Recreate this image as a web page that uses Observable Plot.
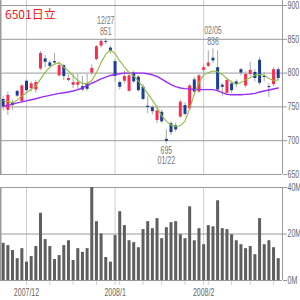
<!DOCTYPE html>
<html><head><meta charset="utf-8">
<script src="https://cdn.jsdelivr.net/npm/d3@7"></script>
<script src="https://cdn.jsdelivr.net/npm/@observablehq/plot@0.6"></script>
<style>
body{margin:0;background:#fff}
#chart{position:relative;width:300px;height:300px;overflow:hidden;background:#fff}
#chart svg{position:absolute;left:0}
#title{position:absolute;left:5px;top:8px;color:#f01818;font:12px/1 "Noto Sans CJK JP","Noto Sans",sans-serif;z-index:2}
</style>
</head><body>
<div id="chart"><div id="title">6501日立</div></div>
<script>
// ---- data (Nov 26 2007 .. Feb 26 2008, daily) ----
const openP  = [761,745,756,773,758,788,777,775,806,821,815,817,796,811,789,782,782,780,784,800,820,840,847,837,817,786,788,773,800,794,779,751,749,730,742,702,725,722,735,752,747,790,772,804,810,822,808,782,770,784,787,805,781,798,801,819,795,780,783,805];
const highP  = [765,772,760,775,783,790,787,789,832,826,818,829,815,813,798,798,798,795,798,812,841,849,851,840,820,788,803,800,803,796,783,765,752,752,745,716,728,726,760,756,783,794,798,812,833,836,833,785,792,788,790,807,802,816,805,823,801,784,808,808];
const lowP   = [744,737,745,764,757,772,772,770,804,808,808,811,794,789,787,777,775,773,773,796,818,837,842,828,787,775,784,772,785,772,759,740,738,725,725,695,708,713,733,736,745,770,770,798,808,814,772,765,767,770,778,796,778,795,787,782,787,764,780,789];
const closeP = [750,767,752,766,781,774,784,786,829,816,810,815,811,795,792,786,786,775,776,807,839,847,846,832,795,779,795,796,787,774,761,749,743,744,728,699,712,716,757,739,781,772,796,808,815,818,775,779,789,774,783,800,798,804,792,785,794,779,805,792];
const ma5    = [759,758,756,760,766,771,776,781,791,801,809,813,815.5,809,803,796,789,784.5,784.5,789,800.7,815.5,828,834,829,818,809,800.7,796,788,779.6,769.7,760,749,736.7,729,723,721,722,729,748,768.7,786,797,800.7,803,802,798,792,787,783.5,786,790,793,797,798,797,792,789,790];
const ma25   = [751,752,754,756,757.5,759,760.5,762,764,765.5,767,768.5,770,771,772,773.5,775.5,778,781.5,785,788,791.5,794,796.5,798,799,800,800,800,800,800,799,797.5,795,791,787,783,780,778,777,776.5,776,775.5,775.5,775.5,775.5,774,771,768.5,768,768,768,768.5,769,770,772,773.5,775,776.5,778];
const volume = [16,15,12.9,9.4,13.7,7.9,10.3,14.6,28.9,17.6,14.6,9,10.7,15,17.1,8.6,13.7,12.1,13.7,40,25.3,20,9.9,7.9,19.3,29.6,23.6,17.1,16.3,14.1,21.9,25.3,22.3,26.6,18,22.7,24.9,25.3,19.7,18,31.7,17.1,22.3,15.4,23.6,23.1,34.3,22.3,21.9,19.7,17.1,15.4,13.7,14.6,11.1,26.6,15.4,17.1,14.1,9.4];
const monthIdx    = [5,24,43];
const monthLabels = ["2007/12","2008/1","2008/2"];
const weekIdx     = [10,15,20,25,30,34,39,44,49,53,58];
const priceTicks  = [650,700,750,800,850,900];
const volTicks    = [0,20,40];
const notes = [
  {i:22, text:"12/27\n851", kind:"high"},
  {i:45, text:"02/05\n836", kind:"high"},
  {i:35, text:"695\n01/22", kind:"low"}
];

const idx = d3.range(openP.length);
const xDom = [-0.58, 59.92];
const UP = "#ff2a4c", DOWN = "#1b3d97", WICK = "#a8a8a8";
const GRID = "#9a9a9a", VGRID = "#cfcfcf";
const FONT = '"Liberation Sans",Arial,sans-serif';

const chart = document.getElementById("chart");

// squeeze small labels horizontally (about their anchor) to mimic the reference's narrow font
function condense(svg, factor) {
  svg.querySelectorAll("text").forEach(t => {
    const tr = t.getAttribute("transform") || "";
    const x = +(t.getAttribute("x") || 0);
    t.setAttribute("transform", `${tr} translate(${x},0) scale(${factor},1) translate(${-x},0)`);
  });
}

const price = Plot.plot({
  width: 300, height: 180,
  marginLeft: 0, marginRight: 18, marginTop: 5, marginBottom: 6,
  x: {domain: xDom, axis: null},
  y: {domain: [650, 900]},
  style: {fontFamily: FONT, fontSize: "10px", color: "#666", background: "transparent"},
  marks: [
    Plot.ruleX(monthIdx, {x: d => d, stroke: VGRID, insetTop: -5}),
    Plot.ruleY(priceTicks, {y: d => d, stroke: GRID}),
    Plot.axisY({anchor: "right", ticks: priceTicks, tickSize: 4, tickPadding: 1, stroke: GRID, fill: "#666", label: null}),
    Plot.ruleX([xDom[1]], {x: d => d, stroke: GRID, insetTop: -5}),
    Plot.ruleX([xDom[0]], {x: d => d, stroke: GRID, strokeWidth: 2, insetTop: -5}),
    Plot.ruleX(idx, {x: i => i, y1: i => lowP[i], y2: i => highP[i], stroke: WICK}),
    Plot.ruleX(idx, {x: i => i, y1: i => openP[i],
      y2: i => Math.abs(closeP[i] - openP[i]) < 1.5 ? openP[i] + (closeP[i] >= openP[i] ? 1.5 : -1.5) : closeP[i],
      stroke: i => closeP[i] > openP[i] ? UP : DOWN, strokeWidth: 3}),
    Plot.line(idx, {x: i => i, y: i => ma25[i], stroke: "#9a2cf5", strokeWidth: 1.4}),
    Plot.line(idx, {x: i => i, y: i => ma5[i], stroke: "#8dbd3c", strokeWidth: 1.1}),
    Plot.text(notes.filter(n => n.kind === "high"), {x: n => n.i, y: n => highP[n.i], text: "text",
      lineAnchor: "bottom", dy: -4, fill: "#777", fontSize: 10, lineHeight: 1.05}),
    Plot.text(notes.filter(n => n.kind === "low"), {x: n => n.i, y: n => lowP[n.i], text: "text",
      lineAnchor: "top", dy: 2, fill: "#777", fontSize: 10, lineHeight: 1.05})
  ]
});
price.style.top = "0px";
chart.appendChild(price);
condense(price, 0.7);

const vol = Plot.plot({
  width: 300, height: 120,
  marginLeft: 0, marginRight: 18, marginTop: 7, marginBottom: 20,
  x: {domain: xDom, axis: null},
  y: {domain: [0, 40]},
  style: {fontFamily: FONT, fontSize: "10px", color: "#666", background: "transparent"},
  marks: [
    Plot.ruleX(monthIdx, {x: d => d, stroke: VGRID, insetBottom: -5}),
    Plot.axisX({ticks: weekIdx, tickSize: 5, tickFormat: () => "", stroke: VGRID, label: null}),
    Plot.ruleY(volTicks, {y: d => d, stroke: GRID}),
    Plot.axisY({anchor: "right", ticks: volTicks, tickSize: 4, tickPadding: 1, stroke: GRID, fill: "#666",
      tickFormat: d => d + "M", label: null}),
    Plot.ruleX([xDom[1]], {x: d => d, stroke: GRID}),
    Plot.ruleX([xDom[0]], {x: d => d, stroke: GRID, strokeWidth: 2}),
    Plot.ruleX(idx, {x: i => i, y1: 0, y2: i => volume[i], stroke: "#5e5e5e", strokeWidth: 3}),
    Plot.axisX({ticks: monthIdx, tickSize: 0, tickPadding: 8, tickFormat: d => monthLabels[monthIdx.indexOf(d)],
      fill: "#666", label: null})
  ]
});
vol.style.top = "180px";
chart.appendChild(vol);
condense(vol, 0.7);
</script>
</body></html>
